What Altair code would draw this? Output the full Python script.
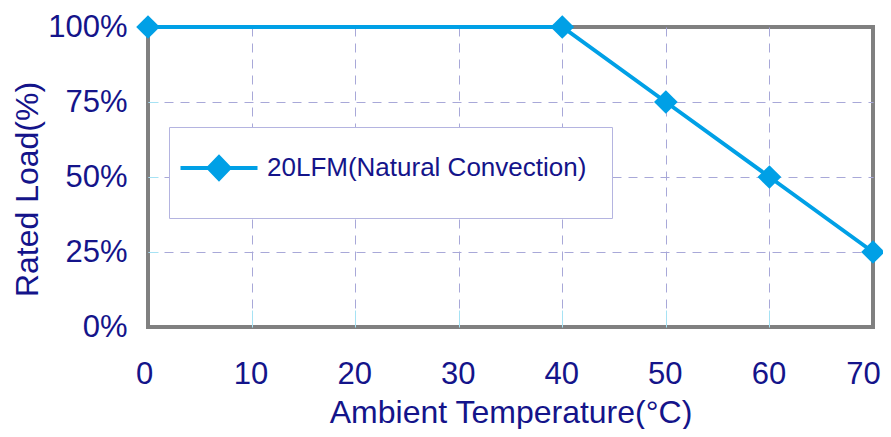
import altair as alt
import pandas as pd

# ---- data ----
temps = [0, 40, 50, 60, 70]
loads = [100, 100, 75, 50, 25]
series_name = "20LFM(Natural Convection)"
x_ticks = [0, 10, 20, 30, 40, 50, 60, 70]
y_ticks = [0, 25, 50, 75, 100]
x_inner_ticks = [10, 20, 30, 40, 50, 60]
y_inner_ticks = [25, 50, 75]

df = pd.DataFrame({"temp": temps, "load": loads,
                   "series": [series_name] * len(temps)})

NAVY = "#14148a"
BLUE = "#00a0e6"
GRID = "#a8a8d8"
TICK = "#a6e2f4"
FONT = "Liberation Sans"

x_scale = alt.Scale(domain=[0, 70], nice=False, zero=False)
y_scale = alt.Scale(domain=[0, 100], nice=False)

x_main = alt.X(
    "temp:Q", scale=x_scale,
    axis=alt.Axis(
        orient="bottom",
        values=x_ticks,
        title="Ambient Temperature(°C)",
        titleX=362.5, titleY=95, titleBaseline="alphabetic",
        labelPadding=32, labelFlush=False,
        grid=True, gridColor=GRID, gridDash=[9, 7], gridWidth=1,
        labelOffset={"condition": [{"test": "datum.value >= 70", "value": -10},
                                   {"test": "datum.value <= 0", "value": -4}], "value": -1},
        gridOpacity={"condition": {"test": "datum.value <= 0 || datum.value >= 70", "value": 0}, "value": 1},
    ),
)
y_main = alt.Y(
    "load:Q", scale=y_scale,
    axis=alt.Axis(
        orient="left",
        values=y_ticks,
        labelExpr="datum.value + '%'",
        title="Rated Load(%)",
        titleX=-111, titleY=162, titleBaseline="alphabetic", titleAlign="center",
        labelPadding=21, labelFlush=False,
        grid=True, gridColor=GRID, gridDash=[9, 7], gridWidth=1,
        gridOpacity={"condition": {"test": "datum.value <= 0 || datum.value >= 100", "value": 0}, "value": 1},
    ),
)

# inner tick marks: a top axis moved down onto the bottom edge, a right axis moved onto the left edge
x_ticks_axis = alt.X(
    "temp:Q", scale=x_scale,
    axis=alt.Axis(orient="top", offset=-300, values=x_inner_ticks, labels=False, grid=False,
                  domain=False, ticks=True, tickSize=17, tickColor=TICK, tickWidth=1, title=None),
)
y_ticks_axis = alt.Y(
    "load:Q", scale=y_scale,
    axis=alt.Axis(orient="right", offset=-725, values=y_inner_ticks, labels=False, grid=False,
                  domain=False, ticks=True, tickSize=10, tickColor=TICK, tickWidth=1, title=None),
)

legend_path = "M-1,0L1,0M-0.27,0L0,-0.28L0.27,0L0,0.28ZM9.975,1.065"

line = alt.Chart(df).mark_line(color=BLUE, strokeWidth=4, clip=False).encode(x=x_main, y=y_main)
tick_layer = alt.Chart(df).mark_point(opacity=0, size=1).encode(x=x_ticks_axis, y=y_ticks_axis)
pts = alt.Chart(df).mark_point(shape="diamond", filled=True, size=560, opacity=1, clip=False).encode(
    x=alt.X("temp:Q", scale=x_scale, axis=None),
    y=alt.Y("load:Q", scale=y_scale, axis=None),
    color=alt.Color(
        "series:N",
        scale=alt.Scale(range=[BLUE]),
        legend=alt.Legend(
            orient="none", legendX=21, legendY=100, title=None,
            symbolType=legend_path, symbolSize=5929, symbolStrokeWidth=4,
            symbolStrokeColor=BLUE, symbolOffset=9, labelOffset=7.5,
            padding=0.5, strokeColor="#b4b4e0", fillColor="white",
            labelFontSize=26, labelFont=FONT, labelColor=NAVY, labelLimit=1000,
        ),
    ),
)

chart = (
    alt.layer(line, tick_layer, pts)
    .resolve_axis(x="independent", y="independent")
    .properties(width=725, height=300,
                autosize=alt.AutoSizeParams(type="none"),
                padding={"left": 140, "top": 19, "right": 10, "bottom": 102})
    .configure_view(stroke="#808080", strokeWidth=4)
    .configure_axis(
        labelFont=FONT, labelFontSize=31, labelColor=NAVY,
        titleFont=FONT, titleFontSize=32, titleColor=NAVY, titleFontWeight="normal",
        domain=False, ticks=False, tickSize=0,
    )
)

chart.save("out.html", embed_options={"renderer": "svg", "actions": False})
